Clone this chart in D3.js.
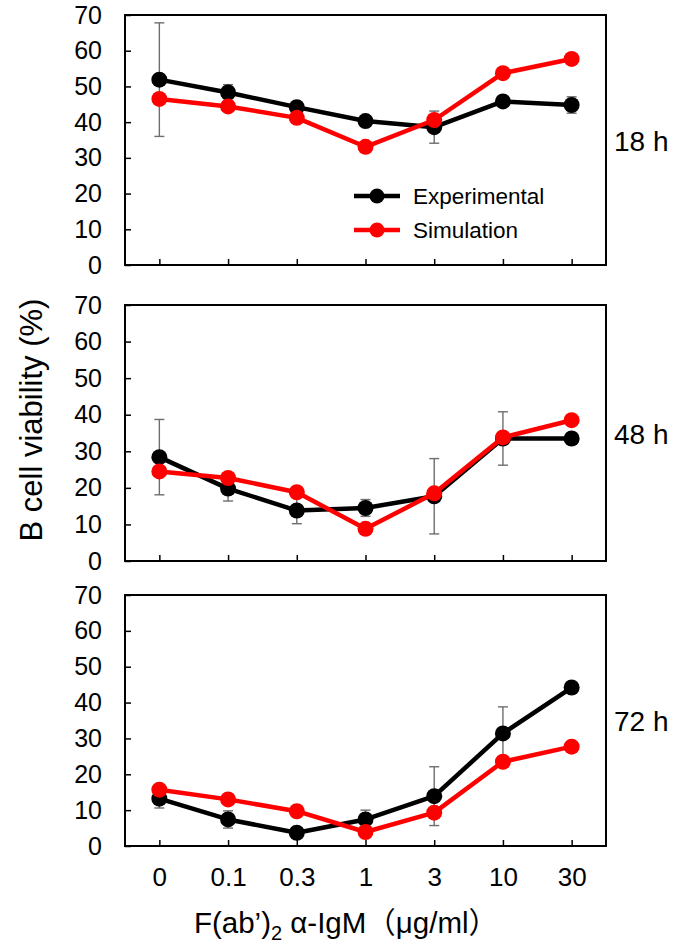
<!DOCTYPE html>
<html>
<head>
<meta charset="utf-8">
<script src="https://cdn.jsdelivr.net/npm/d3@7"></script>
<style>
  html, body { margin: 0; padding: 0; background: #fff; }
  svg { display: block; }
  text { font-family: "Liberation Sans", Arial, "Noto Sans CJK SC", sans-serif; fill: #000; }
</style>
</head>
<body>
<script>
// ---- data ----
const categories = ["0", "0.1", "0.3", "1", "3", "10", "30"];
const panelLabels = ["18 h", "48 h", "72 h"];
const yTicks = [0, 10, 20, 30, 40, 50, 60, 70];
const seriesNames = ["Experimental", "Simulation"];

const expValues = [
  [51.9, 48.3, 44.2, 40.3, 38.6, 45.8, 44.8],
  [28.4, 19.8, 13.8, 14.5, 17.7, 33.5, 33.5],
  [13.2, 7.4, 3.7, 7.4, 13.9, 31.4, 44.2]
];
const expErrors = [
  [15.9, 2.2, 0.9, 0.9, 4.5, 0.9, 2.3],
  [10.3, 3.4, 3.6, 2.3, 10.3, 7.3, 0.8],
  [2.6, 2.4, 0.8, 2.6, 8.2, 7.4, 0.8]
];
const simValues = [
  [46.5, 44.4, 41.2, 33.1, 40.6, 53.7, 57.7],
  [24.5, 22.7, 18.8, 8.8, 18.5, 33.8, 38.5],
  [15.7, 13.0, 9.7, 3.9, 9.3, 23.5, 27.7]
];

// ---- layout ----
const W = 685, H = 943;
const left = 125, right = 606;
const panelTops = [15, 305, 595];
const panelBottoms = [265, 561, 846];
const colors = { exp: "#000000", sim: "#ff0000", err: "#6e6e6e" };

const svg = d3.select("body").append("svg")
  .attr("width", W).attr("height", H);

const x = d3.scalePoint().domain(categories).range([left, right]).padding(0.5);

panelTops.forEach((top, p) => {
  const bottom = panelBottoms[p];
  const y = d3.scaleLinear().domain([0, 70]).range([bottom, top]);
  const g = svg.append("g");

  // y axis
  const ya = g.append("g").attr("transform", `translate(${left},0)`)
    .call(d3.axisLeft(y).tickValues(yTicks).tickSize(-6).tickSizeOuter(0).tickPadding(23));
  ya.select(".domain").remove();
  ya.selectAll(".tick line").attr("stroke", "#000").attr("stroke-width", 1.5);
  ya.selectAll(".tick text").style("font-size", "25px").attr("fill", "#000");

  // x axis
  const xa = g.append("g").attr("transform", `translate(0,${bottom})`)
    .call(d3.axisBottom(x).tickSize(-6).tickSizeOuter(0).tickPadding(22)
      .tickFormat(p === 2 ? (d => d) : () => ""));
  xa.select(".domain").remove();
  xa.selectAll(".tick line").attr("stroke", "#000").attr("stroke-width", 1.5);
  xa.selectAll(".tick text").style("font-size", "26px").attr("fill", "#000");

  // box
  g.append("rect")
    .attr("x", left).attr("y", top)
    .attr("width", right - left).attr("height", bottom - top)
    .attr("fill", "none").attr("stroke", "#000").attr("stroke-width", 2);

  // error bars
  const eb = g.append("g").attr("stroke", colors.err).attr("stroke-width", 1.4);
  categories.forEach((c, i) => {
    const v = expValues[p][i], e = expErrors[p][i];
    const cx = x(c);
    eb.append("line").attr("x1", cx).attr("x2", cx).attr("y1", y(v - e)).attr("y2", y(v + e));
    eb.append("line").attr("x1", cx - 5).attr("x2", cx + 5).attr("y1", y(v - e)).attr("y2", y(v - e));
    eb.append("line").attr("x1", cx - 5).attr("x2", cx + 5).attr("y1", y(v + e)).attr("y2", y(v + e));
  });

  const line = d3.line().x((d, i) => x(categories[i])).y(d => y(d));
  [[expValues[p], colors.exp], [simValues[p], colors.sim]].forEach(([vals, col]) => {
    g.append("path").datum(vals).attr("d", line)
      .attr("fill", "none").attr("stroke", col).attr("stroke-width", 4.5)
      .attr("stroke-linejoin", "round");
    g.append("g").selectAll("circle").data(vals).join("circle")
      .attr("cx", (d, i) => x(categories[i])).attr("cy", d => y(d))
      .attr("r", 8).attr("fill", col);
  });

  // right label
  g.append("text").attr("x", 614).attr("y", y(32))
    .style("font-size", "28px").text(panelLabels[p]);

  // legend in first panel
  if (p === 0) {
    const legY = [196, 230];
    const legCols = [colors.exp, colors.sim];
    seriesNames.forEach((name, k) => {
      g.append("line").attr("x1", 354).attr("x2", 400).attr("y1", legY[k]).attr("y2", legY[k])
        .attr("stroke", legCols[k]).attr("stroke-width", 4.5);
      g.append("circle").attr("cx", 377).attr("cy", legY[k]).attr("r", 7.5).attr("fill", legCols[k]);
      g.append("text").attr("x", 413).attr("y", legY[k]).attr("dy", "0.35em")
        .style("font-size", "22.5px").text(name);
    });
  }
});

// y axis title
svg.append("text")
  .attr("transform", "translate(42,420) rotate(-90)")
  .attr("text-anchor", "middle")
  .style("font-size", "31px")
  .text("B cell viability (%)");

// x axis title
const xt = svg.append("text").attr("x", 346).attr("y", 933).attr("text-anchor", "middle")
  .style("font-size", "29.5px");
xt.append("tspan").text("F(ab’)");
xt.append("tspan").attr("dy", 7).style("font-size", "20px").text("2");
xt.append("tspan").attr("dy", -7).text(" α-IgM（μg/ml）");
</script>
</body>
</html>
